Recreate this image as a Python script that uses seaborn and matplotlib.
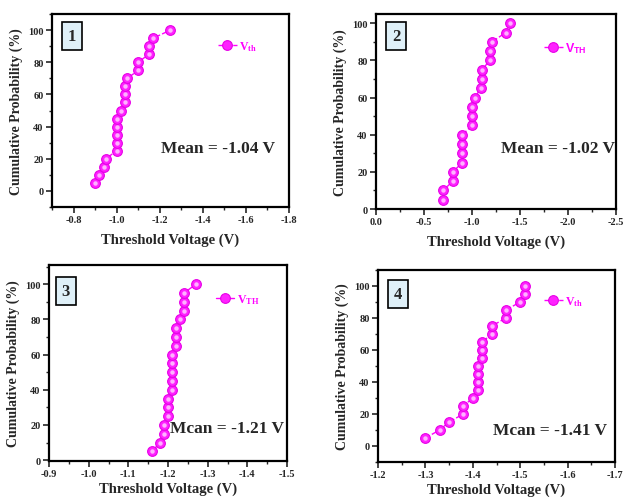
import matplotlib
matplotlib.use("Agg")
import matplotlib.pyplot as plt
import matplotlib.ticker as mt
import seaborn as sns
import pandas as pd

# ---- data ----
prob = [5, 10, 15, 20, 25, 30, 35, 40, 45, 50, 55, 60, 65, 70, 75, 80, 85, 90, 95, 100]
vth1 = [-0.90, -0.92, -0.94, -0.95, -1.00, -1.00, -1.00, -1.00, -1.00, -1.02,
        -1.04, -1.04, -1.04, -1.05, -1.10, -1.10, -1.15, -1.15, -1.17, -1.25]
vth2 = [-0.70, -0.70, -0.80, -0.80, -0.90, -0.90, -0.90, -0.90, -1.00, -1.00,
        -1.00, -1.03, -1.09, -1.10, -1.10, -1.19, -1.19, -1.21, -1.35, -1.40]
vth3 = [-1.16, -1.18, -1.19, -1.19, -1.20, -1.20, -1.20, -1.21, -1.21, -1.21,
        -1.21, -1.21, -1.22, -1.22, -1.22, -1.23, -1.24, -1.24, -1.24, -1.27]
vth4 = [-1.30, -1.33, -1.35, -1.38, -1.38, -1.40, -1.41, -1.41, -1.41, -1.41,
        -1.42, -1.42, -1.42, -1.44, -1.44, -1.47, -1.47, -1.50, -1.51, -1.51]
panel_ids = ["1", "2", "3", "4"]
mean_texts = ["Mean = -1.04 V", "Mean = -1.02 V", "Mcan = -1.21 V", "Mcan = -1.41 V"]
legend_labels = [r"V$_{\mathbf{th}}$", r"V$_{\mathsf{TH}}$", r"V$_{\mathbf{TH}}$", r"V$_{\mathbf{th}}$"]
xlims = [(-0.7, -1.8), (0.0, -2.5), (-0.9, -1.5), (-1.2, -1.7)]
xmajor = [0.2, 0.5, 0.1, 0.1]
ylims = [(-10, 110), (0, 105), (-0.5, 111), (-10, 110)]
xlabel = "Threshold Voltage (V)"
ylabel = "Cumulative Probability (%)"

sns.set_theme(style="ticks")
plt.rcParams["font.family"] = ["Liberation Serif", "DejaVu Serif"]
plt.rcParams["font.weight"] = "bold"
plt.rcParams["mathtext.fontset"] = "custom"
plt.rcParams["mathtext.rm"] = "Liberation Serif:bold"
plt.rcParams["mathtext.bf"] = "Liberation Serif:bold"
plt.rcParams["mathtext.it"] = "Liberation Serif:bold"
plt.rcParams["mathtext.sf"] = "Liberation Sans:bold"

W, H = 626, 502
fig = plt.figure(figsize=(W / 100, H / 100), dpi=100)
fig.patch.set_facecolor("white")

boxes = [(52, 15, 289, 208), (376, 15, 616, 210), (49, 266, 287, 462), (378, 271, 615, 463)]
num_pos = [(0.084, 0.886), (0.085, 0.887), (0.071, 0.867), (0.084, 0.875)]
mean_pos = [(0.70, 0.306), (0.76, 0.313), (0.748, 0.168), (0.726, 0.167)]
leg_pos = [(0.70, 0.834), (0.70, 0.83), (0.70, 0.827), (0.70, 0.84)]
xlabelpads = [6, 6, 2, 2]
linestyles = ["--", "--", "-", "--"]
series = [vth1, vth2, vth3, vth4]

for i in range(4):
    l, t, r, b = boxes[i]
    ax = fig.add_axes([l / W, 1 - b / H, (r - l) / W, (b - t) / H])
    df = pd.DataFrame({"V": series[i], "P": prob})
    sns.lineplot(data=df, x="V", y="P", ax=ax, sort=False, estimator=None,
                 color="#ff00ff", linestyle=linestyles[i], linewidth=1.0,
                 marker="o", markersize=7, markeredgecolor="#e600e6",
                 markerfacecolor="#ff22ff", markeredgewidth=0.8,
                 label=legend_labels[i])
    # highlight to mimic the shaded spheres
    ax.plot(df["V"], df["P"], linestyle="none", marker="o", markersize=2.2,
            color="#ffb3ff", zorder=5)
    ax.set_xlim(*xlims[i])
    ax.set_ylim(*ylims[i])
    ax.xaxis.set_major_locator(mt.MultipleLocator(xmajor[i]))
    ax.xaxis.set_minor_locator(mt.MultipleLocator(xmajor[i] / 2))
    ax.xaxis.set_major_formatter(mt.FormatStrFormatter("%.1f"))
    ax.yaxis.set_major_locator(mt.MultipleLocator(20))
    ax.yaxis.set_minor_locator(mt.MultipleLocator(10))
    ax.tick_params(which="major", direction="out", length=4, width=1.2,
                   labelsize=7.5, pad=2, top=False, right=False)
    ax.tick_params(which="minor", direction="out", length=2.5, width=1.0,
                   top=False, right=False)
    for lab in ax.get_xticklabels() + ax.get_yticklabels():
        lab.set_fontweight("bold")
    for s in ax.spines.values():
        s.set_linewidth(1.6)
        s.set_color("black")
    ax.set_xlabel(xlabel, fontsize=10.5, fontweight="bold", labelpad=xlabelpads[i])
    ax.set_ylabel(ylabel, fontsize=10, fontweight="bold", labelpad=4)
    ax.text(num_pos[i][0], num_pos[i][1], panel_ids[i], transform=ax.transAxes,
            ha="center", va="center", fontsize=12, fontweight="bold",
            bbox=dict(boxstyle="square,pad=0.35", facecolor="#dff0f8",
                      edgecolor="black", linewidth=1.2))
    ax.text(mean_pos[i][0], mean_pos[i][1], mean_texts[i], transform=ax.transAxes,
            ha="center", va="center", fontsize=12.5, fontweight="bold")
    leg = ax.legend(loc="center left", bbox_to_anchor=leg_pos[i], frameon=False,
                    fontsize=8.5, handlelength=1.6, handletextpad=0.2,
                    borderpad=0, borderaxespad=0)
    for txt in leg.get_texts():
        txt.set_color("#ff00ff")
        if i == 1:
            txt.set_fontfamily("Liberation Sans")
            txt.set_fontsize(9)
    ax.grid(False)

fig.savefig("out.png", dpi=100, facecolor="white")
